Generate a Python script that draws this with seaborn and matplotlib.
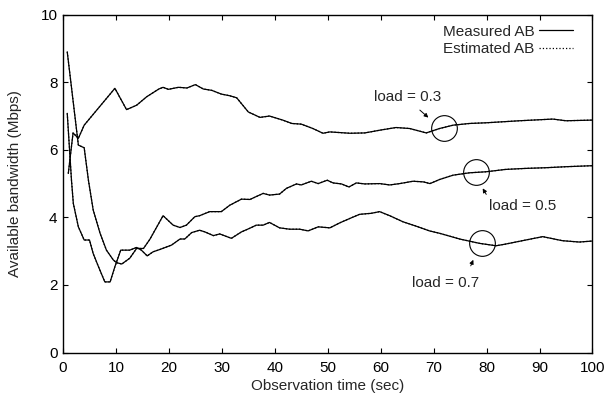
import numpy as np
import pandas as pd
import seaborn as sns
import matplotlib.pyplot as plt
from matplotlib.lines import Line2D

# load = 0.3 curve
load03_x = [1, 1.9, 2.9, 4, 9.8, 12, 13.9, 15.8, 18.1, 18.9, 19.9, 21.8, 23.4, 25, 26.5,
            28.1, 29.9, 31.5, 32.8, 35, 37.2, 39, 41.5, 43.2, 45, 47.2, 49.1, 50.4, 54.2,
            57, 59.8, 62.9, 65.5, 68.6, 71.1, 73.7, 76.8, 79.9, 86.2, 92.5, 95, 100]
load03_y = [5.3, 6.5, 6.34, 6.73, 7.82, 7.19, 7.32, 7.57, 7.8, 7.85, 7.79, 7.85, 7.83, 7.93, 7.8,
            7.76, 7.65, 7.6, 7.54, 7.12, 6.96, 7.0, 6.88, 6.78, 6.76, 6.63, 6.49, 6.53, 6.49,
            6.5, 6.58, 6.66, 6.63, 6.5, 6.63, 6.73, 6.78, 6.8, 6.86, 6.91, 6.86, 6.88]

# load = 0.5 curve
load05_x = [0.8, 2.9, 4.0, 4.8, 5.7, 7.0, 8.2, 9.5, 10.1, 11.1,
            12.6, 13.9, 15.2, 16.4, 18.9, 20.8, 22.1, 23.3, 24.9, 25.8,
            27.7, 29.9, 31.5, 33.7, 35.3, 37.8, 39, 40.9, 42.2, 44.1,
            45, 46.9, 48.2, 49.9, 51, 52.6, 54, 55.4, 57, 59.8,
            61.7, 63.6, 66.1, 68.1, 69.3, 71.1, 73.7, 76.8, 79.9, 83.6,
            87.4, 91.2, 95, 100]
load05_y = [8.9, 6.14, 6.06, 5.1, 4.22, 3.53, 3.03, 2.74, 2.66, 2.62,
            2.79, 3.08, 3.08, 3.35, 4.05, 3.77, 3.7, 3.77, 4.02, 4.05,
            4.17, 4.17, 4.36, 4.54, 4.53, 4.71, 4.66, 4.69, 4.86, 4.99,
            4.96, 5.07, 5.0, 5.1, 5.02, 4.99, 4.9, 5.02, 4.99, 5.0,
            4.96, 5.0, 5.07, 5.05, 5.0, 5.12, 5.25, 5.32, 5.35, 5.42,
            5.45, 5.47, 5.5, 5.53]

# load = 0.7 curve
load07_x = [0.8, 1.6, 1.95, 2.9, 4.0, 5.0, 5.7, 6.7, 7.9, 8.9,
            9.8, 10.9, 12.6, 13.9, 14.8, 15.9, 17.0, 18.3, 20.5, 22.1,
            23.0, 24.3, 25.8, 26.8, 28.4, 29.6, 31.8, 33.7, 35.3, 36.5,
            37.8, 39, 40.9, 42.8, 44.7, 46.3, 48.2, 50.4, 52.3, 54.2,
            56, 58.2, 59.8, 61.7, 64.2, 66.7, 69.2, 71.1, 74.9, 78.7,
            81.8, 83.6, 87.4, 90.6, 94.3, 97.5, 100]
load07_y = [7.08, 5.1, 4.41, 3.72, 3.33, 3.33, 2.93, 2.54, 2.09, 2.09,
            2.54, 3.03, 3.03, 3.11, 3.03, 2.86, 2.98, 3.05, 3.18, 3.36,
            3.36, 3.55, 3.62, 3.57, 3.46, 3.51, 3.38, 3.57, 3.68, 3.77,
            3.77, 3.85, 3.69, 3.65, 3.65, 3.6, 3.72, 3.69, 3.84, 3.97,
            4.09, 4.12, 4.17, 4.05, 3.87, 3.74, 3.6, 3.53, 3.36, 3.23,
            3.16, 3.21, 3.33, 3.43, 3.31, 3.27, 3.3]

# estimated AB follows the measured curves (indistinguishable in the picture)
est03_y = list(load03_y)
est05_y = list(load05_y)
est07_y = list(load07_y)

# annotation labels, circle centres, text and arrow positions
load_labels = ["load = 0.3", "load = 0.5", "load = 0.7"]
circle_x = [71.9, 78.0, 79.2]
circle_y = [6.65, 5.33, 3.23]
label_x = [65.0, 86.8, 72.3]
label_y = [7.57, 4.34, 2.07]
arrow_start = [(67.0, 7.23), (80.2, 4.61), (76.8, 2.49)]
arrow_end = [(69.4, 6.9), (79.0, 4.93), (77.7, 2.82)]

x_ticks = [0, 10, 20, 30, 40, 50, 60, 70, 80, 90, 100]
y_ticks = [0, 2, 4, 6, 8, 10]

sns.set_theme(style="ticks")
plt.rcParams['font.family'] = ['Liberation Sans', 'DejaVu Sans']

fig = plt.figure(figsize=(6.07, 3.98), dpi=100)
ax = fig.add_axes([0.1038, 0.1143, 0.8723, 0.8488])

measured = [(load03_x, load03_y), (load05_x, load05_y), (load07_x, load07_y)]
estimated = [(load03_x, est03_y), (load05_x, est05_y), (load07_x, est07_y)]

for xs, ys in measured:
    sns.lineplot(x=xs, y=ys, color="black", linewidth=0.9, ax=ax, legend=False)
for xs, ys in estimated:
    sns.lineplot(x=xs, y=ys, color="black", linewidth=0.9, linestyle=":", ax=ax, legend=False)

# circles and labels
ax.plot(circle_x, circle_y, linestyle="none", marker="o", markersize=18.5,
        markerfacecolor="none", markeredgecolor="black", markeredgewidth=0.8)
for lab, tx, ty, s, e in zip(load_labels, label_x, label_y, arrow_start, arrow_end):
    ax.text(tx, ty, lab, ha="center", va="center", fontsize=11)
    ax.annotate("", xy=e, xytext=s,
                arrowprops=dict(arrowstyle="-|>", color="black", lw=0.7, mutation_scale=6))

ax.set_xlim(0, 100)
ax.set_ylim(0, 10)
ax.set_xticks(x_ticks)
ax.set_yticks(y_ticks)
ax.tick_params(direction="in", top=True, right=True, length=3.5, width=0.8,
               labelsize=11, colors="black")
ax.tick_params(axis="x", pad=6)
ax.tick_params(axis="y", pad=4)
for sp in ax.spines.values():
    sp.set_visible(True)
    sp.set_linewidth(1.0)
    sp.set_color("black")

ax.set_xlabel("Observation time (sec)", fontsize=11, labelpad=3)
ax.set_ylabel("Available bandwidth (Mbps)", fontsize=11, labelpad=13)

handles = [Line2D([], [], color="black", lw=0.9),
           Line2D([], [], color="black", lw=0.9, linestyle=":")]
ax.legend(handles, ["Measured AB", "Estimated AB"], loc="upper right",
          bbox_to_anchor=(0.963, 0.97), frameon=False, markerfirst=False,
          fontsize=11, handlelength=2.2, handletextpad=0.3, labelspacing=0.2,
          borderaxespad=0.0, borderpad=0.0)

fig.savefig("out.png", dpi=100)
